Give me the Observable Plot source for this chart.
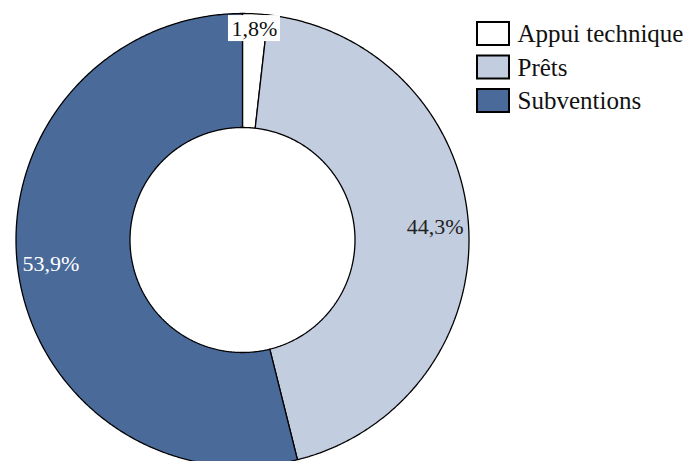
<!DOCTYPE html>
<html>
<head>
<meta charset="utf-8">
<script src="https://cdn.jsdelivr.net/npm/d3@7"></script>
<script src="https://cdn.jsdelivr.net/npm/@observablehq/plot@0.6"></script>
<style>
  html, body { margin: 0; padding: 0; background: #ffffff; overflow: hidden; }
  #chart svg { display: block; }
</style>
</head>
<body>
<div id="chart"></div>
<script>
// ---- Data ----
const categories = ["Appui technique", "Prêts", "Subventions"];
const values = [1.8, 44.3, 53.9];
const valueLabels = ["1,8%", "44,3%", "53,9%"];
const colors = ["#ffffff", "#c3cde0", "#4a6a9a"];
const labelColors = ["#111111", "#222222", "#ffffff"];

// ---- Layout (pixels) ----
const W = 686, H = 461;
const cx = 242, cy = 239.5, R = 226.5;
const innerRatio = 112.5 / 226.5;
const px2x = px => (px - cx) / R;
const py2y = py => (cy - py) / R;

// ---- Pie geometry through d3.pie ----
const arcs = d3.pie().sort(null).startAngle(0).endAngle(2 * Math.PI)(values);

function slicePoints(a) {
  const pts = [];
  const n = Math.max(4, Math.ceil((a.endAngle - a.startAngle) / (Math.PI / 360)));
  for (let k = 0; k <= n; k++) {
    const t = a.startAngle + (a.endAngle - a.startAngle) * k / n;
    pts.push({x: Math.sin(t), y: Math.cos(t)});
  }
  for (let k = n; k >= 0; k--) {
    const t = a.startAngle + (a.endAngle - a.startAngle) * k / n;
    pts.push({x: innerRatio * Math.sin(t), y: innerRatio * Math.cos(t)});
  }
  return pts;
}

const labelData = arcs.map((a, i) => {
  const mid = (a.startAngle + a.endAngle) / 2;
  const share = values[i] / d3.sum(values);
  const r = share < 0.05 ? 0.935 : 0.852;
  return {x: r * Math.sin(mid), y: r * Math.cos(mid), text: valueLabels[i], color: labelColors[i], small: share < 0.05};
});

// legend rows
const legendData = categories.map((c, i) => ({
  name: c,
  color: colors[i],
  x1: px2x(477), x2: px2x(509),
  y1: py2y(22 + 33.5 * i), y2: py2y(45 + 33.5 * i),
  tx: px2x(517), ty: py2y(33.5 + 33.5 * i)
}));

const fontFamily = "'Liberation Serif', 'DejaVu Serif', serif";

const marks = [];
arcs.forEach((a, i) => {
  marks.push(Plot.line(slicePoints(a), {
    x: "x", y: "y", fill: colors[i], stroke: "#000000", strokeWidth: 1.3,
    curve: "linear-closed", strokeLinejoin: "miter"
  }));
});
// white box behind small labels
marks.push(Plot.rect(labelData.filter(d => d.small), {
  x1: d => d.x - 26 / R, x2: d => d.x + 26 / R,
  y1: d => d.y - 13 / R, y2: d => d.y + 13 / R,
  fill: "#ffffff"
}));
marks.push(Plot.text(labelData, {
  x: "x", y: "y", text: "text", fill: "color",
  fontFamily, fontSize: 22, textAnchor: "middle", lineAnchor: "middle"
}));
marks.push(Plot.rect(legendData, {
  x1: "x1", x2: "x2", y1: "y1", y2: "y2", fill: "color", stroke: "#000000", strokeWidth: 2
}));
marks.push(Plot.text(legendData, {
  x: "tx", y: "ty", text: "name", fill: "#111111",
  fontFamily, fontSize: 25, textAnchor: "start", lineAnchor: "middle"
}));

const chart = Plot.plot({
  width: W,
  height: H,
  margin: 0,
  style: {background: "#ffffff", overflow: "hidden"},
  x: {domain: [-1, 1], range: [cx - R, cx + R], axis: null},
  y: {domain: [-1, 1], range: [cy + R, cy - R], axis: null},
  marks
});
document.getElementById("chart").appendChild(chart);
</script>
</body>
</html>
